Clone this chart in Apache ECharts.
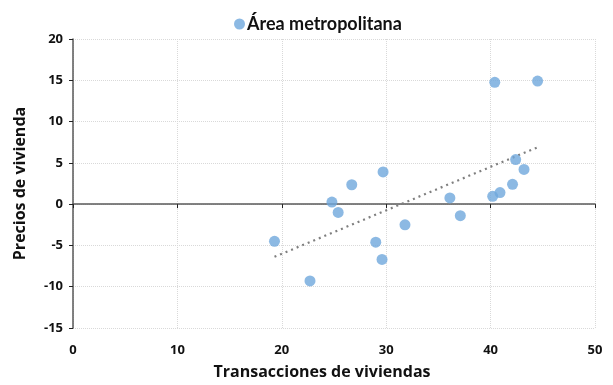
<!DOCTYPE html>
<html><head><meta charset="utf-8">
<script src="https://cdn.jsdelivr.net/npm/echarts@6/dist/echarts.min.js"></script>
<style>html,body{margin:0;padding:0;background:#fff}#c{width:613px;height:385px}</style>
</head><body><div id="c"></div>
<script>
const seriesName = 'Área metropolitana';
const xTitle = 'Transacciones de viviendas';
const yTitle = 'Precios de vivienda';
const transacciones = [19.3, 22.7, 24.8, 25.4, 26.7, 29.0, 29.6, 29.7, 31.8, 36.1, 37.1, 40.2, 40.9, 40.4, 44.5, 42.4, 43.2, 42.1];
const precios = [-4.5, -9.3, 0.25, -1.0, 2.35, -4.6, -6.7, 3.9, -2.5, 0.75, -1.4, 0.95, 1.4, 14.75, 14.9, 5.4, 4.2, 2.4];
const xTicks = { min: 0, max: 50, interval: 10 };
const yTicks = { min: -15, max: 20, interval: 5 };

const points = transacciones.map((x, i) => [x, precios[i]]);
// least-squares linear trend
const n = points.length;
const mx = transacciones.reduce((a, b) => a + b, 0) / n;
const my = precios.reduce((a, b) => a + b, 0) / n;
let sxy = 0, sxx = 0;
for (let i = 0; i < n; i++) { sxy += (transacciones[i] - mx) * (precios[i] - my); sxx += (transacciones[i] - mx) ** 2; }
const slope = sxy / sxx, icpt = my - slope * mx;
const x0 = Math.min(...transacciones), x1 = Math.max(...transacciones);
const trend = [[x0, icpt + slope * x0], [x1, icpt + slope * x1]];

const font = '"Open Sans", Lato, sans-serif';
const chart = echarts.init(document.getElementById('c'), null, { renderer: 'canvas' });
chart.setOption({
  animation: false,
  textStyle: { fontFamily: font },
  grid: { left: 73, right: 18, top: 39, bottom: 54 },
  legend: {
    data: [{ name: seriesName, icon: 'circle' }],
    left: 229, top: 10, itemWidth: 11, itemHeight: 11, itemGap: 4,
    textStyle: { fontFamily: 'Lato, sans-serif', fontSize: 18, fontWeight: 'bold', color: '#111', padding: [0, 0, 0, -3] }
  },
  xAxis: [{
    type: 'value', min: xTicks.min, max: xTicks.max, interval: xTicks.interval,
    name: xTitle, nameLocation: 'middle', nameGap: 36,
    nameTextStyle: { fontFamily: font, fontSize: 16, fontWeight: 'bold', color: '#111', padding: [0, 24, 0, 0] },
    axisLine: { show: false, onZero: false }, axisTick: { show: false },
    axisLabel: { fontFamily: font, fontSize: 13, fontWeight: 'bold', color: '#111', margin: 16 },
    splitLine: { show: true, lineStyle: { color: '#d9d9d9', type: 'dotted', width: 1 } }
  }, {
    type: 'value', min: xTicks.min, max: xTicks.max, interval: xTicks.interval,
    position: 'bottom',
    axisLine: { show: true, onZero: true, lineStyle: { color: '#595959', width: 1.5 } },
    axisTick: { show: true, length: 4, lineStyle: { color: '#222' } },
    axisLabel: { show: false }, splitLine: { show: false }
  }],
  yAxis: {
    type: 'value', min: yTicks.min, max: yTicks.max, interval: yTicks.interval,
    name: yTitle, nameLocation: 'middle', nameGap: 45,
    nameTextStyle: { fontFamily: font, fontSize: 16, fontWeight: 'bold', color: '#111' },
    axisLine: { show: true, onZero: false, lineStyle: { color: '#595959', width: 1.5 } },
    axisTick: { show: true, length: 4, lineStyle: { color: '#222' } },
    axisLabel: { fontFamily: font, fontSize: 13, fontWeight: 'bold', color: '#111', margin: 10 },
    splitLine: { show: true, lineStyle: { color: '#d9d9d9', type: 'dotted', width: 1 } }
  },
  series: [{
    name: seriesName, type: 'scatter', data: points, symbolSize: 11,
    itemStyle: { color: '#6FA8DC' }, z: 3
  }, {
    name: 'trend', type: 'line', data: trend, showSymbol: false, symbol: 'none',
    lineStyle: { color: '#7f7f7f', width: 2.2, type: [2, 4] }, z: 2, silent: true
  }]
});
</script></body></html>
